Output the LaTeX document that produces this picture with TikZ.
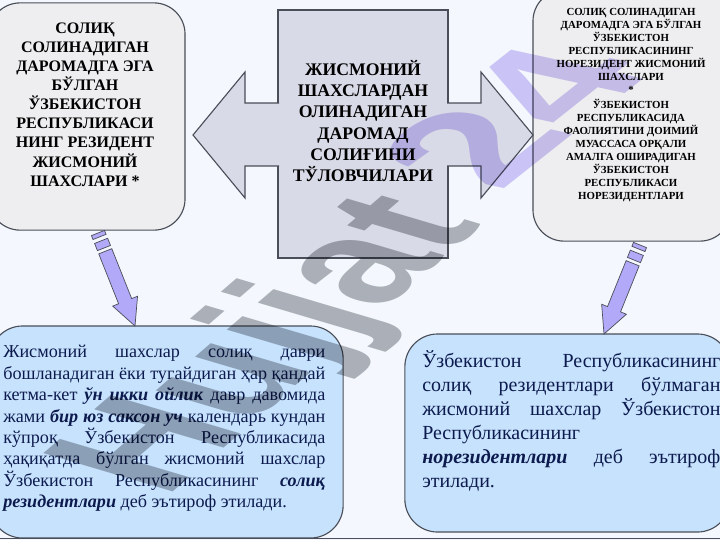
\documentclass[tikz,border=0pt]{standalone}
\usepackage{fontspec}
\setmainfont{Liberation Serif}
\usepackage{tikz}
\usetikzlibrary{calc}
\definecolor{slidebg}{HTML}{F4F8FE}
\definecolor{boxgrey}{HTML}{EEEEF0}
\definecolor{centrefill}{HTML}{D9DAE7}
\definecolor{boxblue}{HTML}{C7E2FD}
\definecolor{edge}{HTML}{4A4E58}
\definecolor{barblue}{HTML}{B2A9F8}
\definecolor{inkblue}{HTML}{0C1A4E}
\definecolor{markgrey}{HTML}{B3B4B8}
\definecolor{markblue}{HTML}{D3CAF6}
\tikzset{
  greybox/.style={draw=edge,line width=0.8pt,fill=boxgrey,rounded corners=0.78cm},
  bluebox/.style={draw=edge,line width=0.8pt,fill=boxblue,rounded corners=0.82cm},
  sidearrow/.style={draw=edge,line width=0.8pt,fill=centrefill},
  bararrow/.style={draw=edge,line width=0.5pt,fill=barblue},
  headtext/.style={align=center,font=\fontsize{11.4}{13.6}\selectfont\bfseries},
  smalltext/.style={align=center,font=\fontsize{7.7}{9.3}\selectfont\bfseries},
  bigtext/.style={align=center,font=\fontsize{12.6}{15.2}\selectfont\bfseries},
  lefttext/.style={text=inkblue,align=justify,inner sep=0pt,text width=229pt,font=\fontsize{12.9}{15.25}\selectfont},
  righttext/.style={text=inkblue,align=justify,inner sep=0pt,text width=212pt,font=\fontsize{14.2}{17.1}\selectfont},
  marktext/.style={transform shape,anchor=base west,inner sep=0pt,font=\fontsize{10}{12}\selectfont},
}
% point at distance #3 from #1 towards #2, moved sideways by #4
\newcommand{\ap}[4]{($($(#1)!#3!(#2)$)!#4!90:(#2)$)}
\newcommand{\slantarrow}[2]{%
  \foreach \a/\b in {0pt/3pt,6pt/11.5pt}
    \draw[bararrow] \ap{#1}{#2}{\a}{5pt} -- \ap{#1}{#2}{\b}{5pt} -- \ap{#1}{#2}{\b}{-5pt} -- \ap{#1}{#2}{\a}{-5pt} -- cycle;
  \draw[bararrow] \ap{#1}{#2}{14pt}{5pt} -- \ap{#2}{#1}{19pt}{-5pt} -- \ap{#2}{#1}{19pt}{-9.5pt} -- (#2)
    -- \ap{#2}{#1}{19pt}{9.5pt} -- \ap{#2}{#1}{19pt}{5pt} -- \ap{#1}{#2}{14pt}{-5pt} -- cycle;
}
% one justified line of the two blue boxes
\newcommand{\jl}[1]{\leavevmode\hbox to 229pt{#1}\\}
\newcommand{\jr}[1]{\leavevmode\hbox to 212pt{#1}\\}
\begin{document}
\begin{tikzpicture}[x=0.025cm,y=-0.025cm]
\fill[slidebg] (0,0) rectangle (720,540);
\useasboundingbox (0,0) rectangle (720,540);

% boxes
\node[greybox,minimum width=4.9cm,minimum height=5.68cm] (taxbox) at (87,116.5) {};
\node[greybox,minimum width=4.95cm,minimum height=6.28cm] (nonresbox) at (632,115.5) {};
\node[draw=edge,line width=0.8pt,fill=centrefill,minimum width=4.25cm,minimum height=6.2cm] (payers) at (363,134) {};
\node[bluebox,minimum width=8.83cm,minimum height=5.3cm] (resdef) at (166.5,432) {};
\node[bluebox,minimum width=8.13cm,minimum height=4.95cm] (nonresdef) at (567.5,433) {};

% side arrows
\coordinate (lstart) at (279,103);
\coordinate (rstart) at (447,103);
\draw[sidearrow] (lstart) -- ++(-34,0) -- ++(0,-31) -- ++(-52,63) -- ++(52,63) -- ++(0,-32) -- ++(34,0);
\draw[sidearrow] (rstart) -- ++(34,0) -- ++(0,-31) -- ++(52,63) -- ++(-52,63) -- ++(0,-32) -- ++(-34,0);

% down arrows
\coordinate (ltail) at (98,233);
\coordinate (ltip) at (135,326);
\coordinate (rtail) at (640,245);
\coordinate (rtip) at (604,334);
\slantarrow{ltail}{ltip}
\slantarrow{rtail}{rtip}

% texts
\node[headtext] (taxtext) at (85,104.5) {СОЛИҚ\\СОЛИНАДИГАН\\ДАРОМАДГА ЭГА\\БЎЛГАН\\ЎЗБЕКИСТОН\\РЕСПУБЛИКАСИ\\НИНГ РЕЗИДЕНТ\\ЖИСМОНИЙ\\ШАХСЛАРИ *};
\node[bigtext] (payertext) at (363,121) {ЖИСМОНИЙ\\ШАХСЛАРДАН\\ОЛИНАДИГАН\\ДАРОМАД\\СОЛИҒИНИ\\ТЎЛОВЧИЛАРИ};
\node[smalltext] (nonrestext) at (631,105) {СОЛИҚ СОЛИНАДИГАН\\ДАРОМАДГА ЭГА БЎЛГАН\\ЎЗБЕКИСТОН\\РЕСПУБЛИКАСИНИНГ\\НОРЕЗИДЕНТ ЖИСМОНИЙ\\ШАХСЛАРИ\\*\\[1pt]ЎЗБЕКИСТОН\\РЕСПУБЛИКАСИДА\\ФАОЛИЯТИНИ ДОИМИЙ\\МУАССАСА ОРҚАЛИ\\АМАЛГА ОШИРАДИГАН\\ЎЗБЕКИСТОН\\РЕСПУБЛИКАСИ\\НОРЕЗИДЕНТЛАРИ};
\node[lefttext,anchor=north west] (restext) at (3,345) {\jl{Жисмоний шахслар солиқ даври}\jl{бошланадиган ёки тугайдиган ҳар қандай}\jl{кетма-кет \textbf{\textit{ўн икки ойлик}} давр давомида}\jl{жами \textbf{\textit{бир юз саксон уч}} календарь кундан}\jl{кўпроқ Ўзбекистон Республикасида}\jl{ҳақиқатда бўлган жисмоний шахслар}\jl{Ўзбекистон Республикасининг \textbf{\textit{солиқ}}}\textbf{\textit{резидентлари}} деб эътироф этилади.};
\node[righttext,anchor=north west] (nonrestext2) at (422,350) {\jr{Ўзбекистон Республикасининг}\jr{солиқ резидентлари бўлмаган}\jr{жисмоний шахслар Ўзбекистон}Республикасининг\\\jr{\textbf{\textit{норезидентлари}} деб эътироф}этилади.};

% watermark
\begin{scope}[shift={(163,500)},cm={8.15,7.02,-13.37,3.96,(0,0)},blend mode=multiply]
\node[marktext] (markword) at (0,0) {\fontspec{Liberation Sans Bold}\textcolor{markgrey}{Hujjat}};
\end{scope}
\begin{scope}[shift={(497,195)},cm={10.1,8,-13.66,2.97,(0,0)},blend mode=multiply]
\node[marktext] (marknum) at (0,0) {\fontspec{Liberation Sans Bold}\textcolor{markblue}{24}};
\end{scope}

% bottom rule
\coordinate (ruleL) at (0,538.5);
\coordinate (ruleR) at (720,538.5);
\draw[edge,line width=1pt] (ruleL) -- (ruleR);
\end{tikzpicture}
\end{document}
